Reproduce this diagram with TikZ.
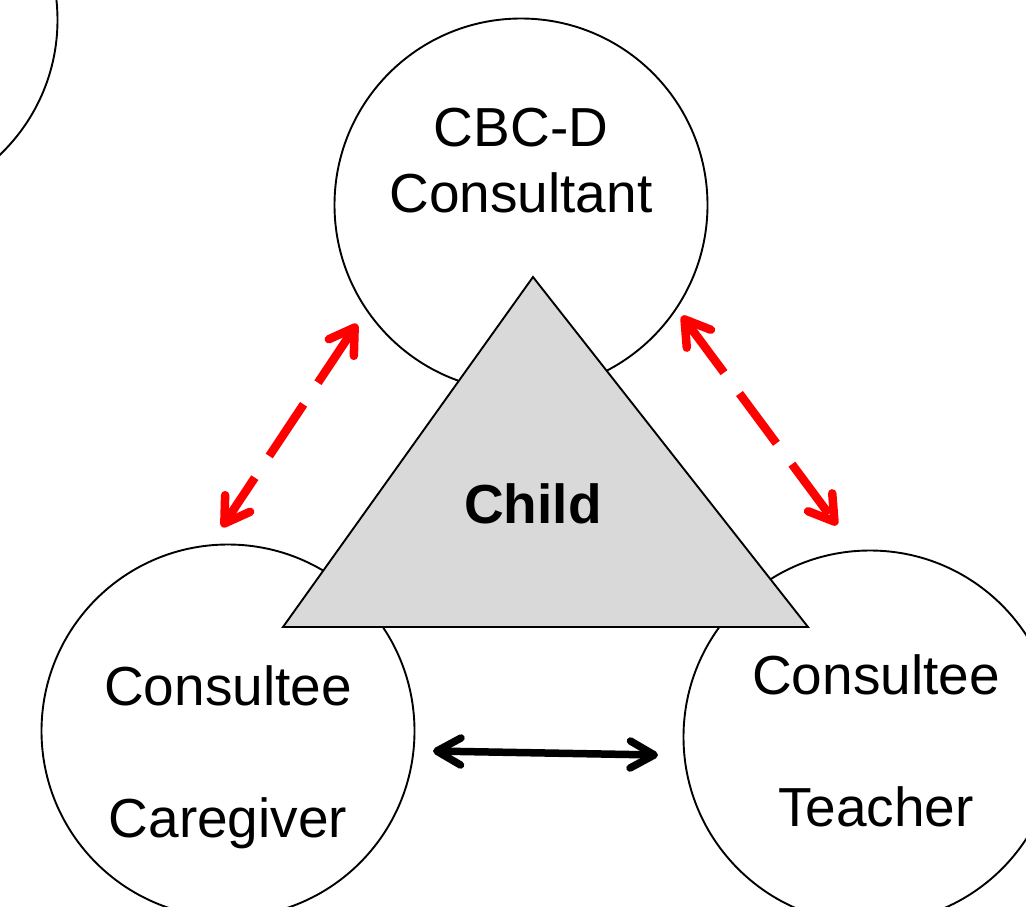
\documentclass[tikz,border=0pt]{standalone}
\usepackage{fontspec}
\setmainfont{Liberation Sans}
\usetikzlibrary{arrows.meta}

\definecolor{childgray}{HTML}{D9D9D9}
\definecolor{linkred}{HTML}{FF0000}

\tikzset{
  party/.style={circle, draw, line width=1.9pt, minimum size=373pt, inner sep=0pt},
  bigtext/.style={font=\fontsize{55pt}{66pt}\selectfont, align=center, inner sep=0pt},
  redlink/.style={draw=linkred, line width=8.5pt, dash pattern=on 62pt off 26pt,
    {Straight Barb[round, length=24pt, width=30pt]}-{Straight Barb[round, length=24pt, width=30pt]}},
  blacklink/.style={draw=black, line width=7.5pt,
    {Straight Barb[round, length=24pt, width=27pt]}-{Straight Barb[round, length=24pt, width=27pt]}}
}

\begin{document}
\begin{tikzpicture}[x=1pt, y=-1pt]
  \useasboundingbox (0,0) rectangle (1026,906);

  % the circles
  \node[party] (previous)   at (-129,20)  {};
  \node[party] (consultant) at (521,205)  {};
  \node[party] (caregiver)  at (228,731)  {};
  \node[party] (teacher)    at (870,737)  {};

  % the child
  \coordinate (apex)  at (533,277);
  \coordinate (baseL) at (283,627);
  \coordinate (baseR) at (808,627);
  \draw[fill=childgray, line width=1.9pt, line join=miter] (apex) -- (baseR) -- (baseL) -- cycle;

  \node[bigtext] (consultanttext) at (521,161) {CBC-D\\Consultant};
  \node[bigtext, font=\fontsize{55pt}{66pt}\selectfont\bfseries] (child) at (533,504) {Child};
  \node[bigtext] (caregivertext) at (228,757) {Consultee\\[66pt]Caregiver};
  \node[bigtext] (teachertext) at (876,741) {Consultee\\[66pt]Teacher};

  % the links
  \coordinate (cl1) at (357,324);
  \coordinate (cl2) at (222,527);
  \coordinate (cr1) at (682,316);
  \coordinate (cr2) at (837,525);
  \coordinate (ct1) at (433,751);
  \coordinate (ct2) at (658,755);
  \draw[redlink] (cl1) -- (cl2);
  \draw[redlink] (cr1) -- (cr2);
  \draw[blacklink] (ct1) -- (ct2);
\end{tikzpicture}
\end{document}
